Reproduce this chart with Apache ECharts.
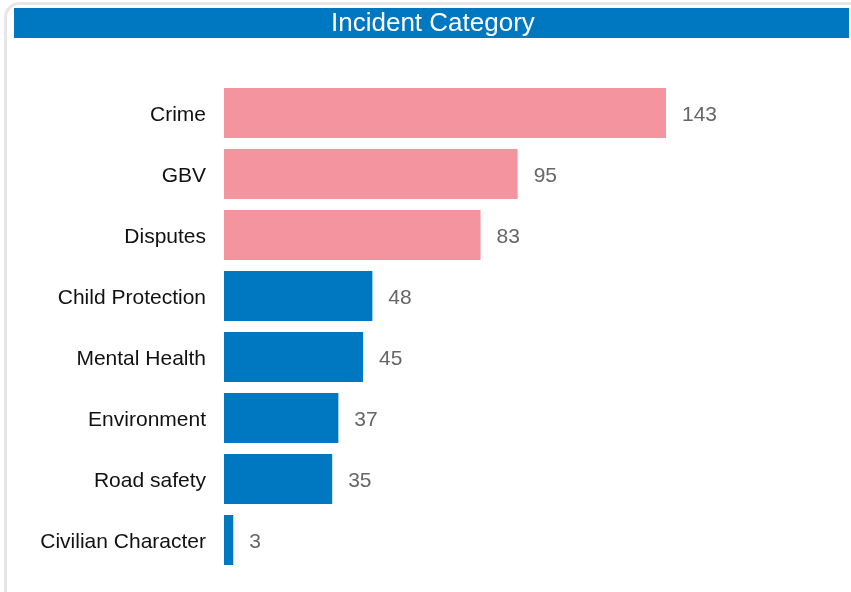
<!DOCTYPE html>
<html>
<head>
<meta charset="utf-8">
<script src="https://cdn.jsdelivr.net/npm/echarts@6/dist/echarts.min.js"></script>
<style>
html,body{margin:0;padding:0;background:#fff;}
#chart{width:851px;height:592px;}
</style>
</head>
<body>
<div id="chart"></div>
<script>
var categories = ["Crime","GBV","Disputes","Child Protection","Mental Health","Environment","Road safety","Civilian Character"];
var values = [143,95,83,48,45,37,35,3];
var highlighted = [true,true,true,false,false,false,false,false];
var titleText = "Incident Category";

var PINK = "#F4949F";
var BLUE = "#0077C1";
var FONT = '"Liberation Sans", Arial, sans-serif';

var chart = echarts.init(document.getElementById('chart'), null, {renderer:'canvas'});
var option = {
  animation: false,
  backgroundColor: '#fff',
  title: {
    text: titleText,
    left: 331,
    top: 9,
    padding: 0,
    textStyle: {color:'#fff', fontSize:26, fontWeight:'normal', fontFamily:FONT, lineHeight:30}
  },
  graphic: [
    {type:'rect', z:-10, shape:{x:5.5, y:3.5, width:860, height:620, r:14}, style:{fill:'#fff', stroke:'#e6e6e6', lineWidth:3}},
    {type:'rect', z:-5, shape:{x:14, y:8, width:835, height:30}, style:{fill:BLUE}}
  ],
  grid: {left:224, top:82.5, width:442, height:488, containLabel:false},
  xAxis: {type:'value', min:0, max:143, show:false},
  yAxis: {
    type:'category', data:categories, inverse:true,
    axisLine:{show:false}, axisTick:{show:false}, splitLine:{show:false},
    axisLabel:{
      margin:18,
      formatter:function(v){return '{a|' + v + '}';},
      rich:{a:{color:'#111', fontSize:21, fontFamily:FONT, lineHeight:25, padding:[4,0,0,0]}}
    }
  },
  series: [{
    type:'bar',
    barWidth:50,
    data: values.map(function(v,i){return {value:v, itemStyle:{color: highlighted[i]?PINK:BLUE}};}),
    label:{show:true, position:'right', distance:16, offset:[0,2], color:'#666', fontSize:21, fontFamily:FONT}
  }]
};
chart.setOption(option);
</script>
</body>
</html>
